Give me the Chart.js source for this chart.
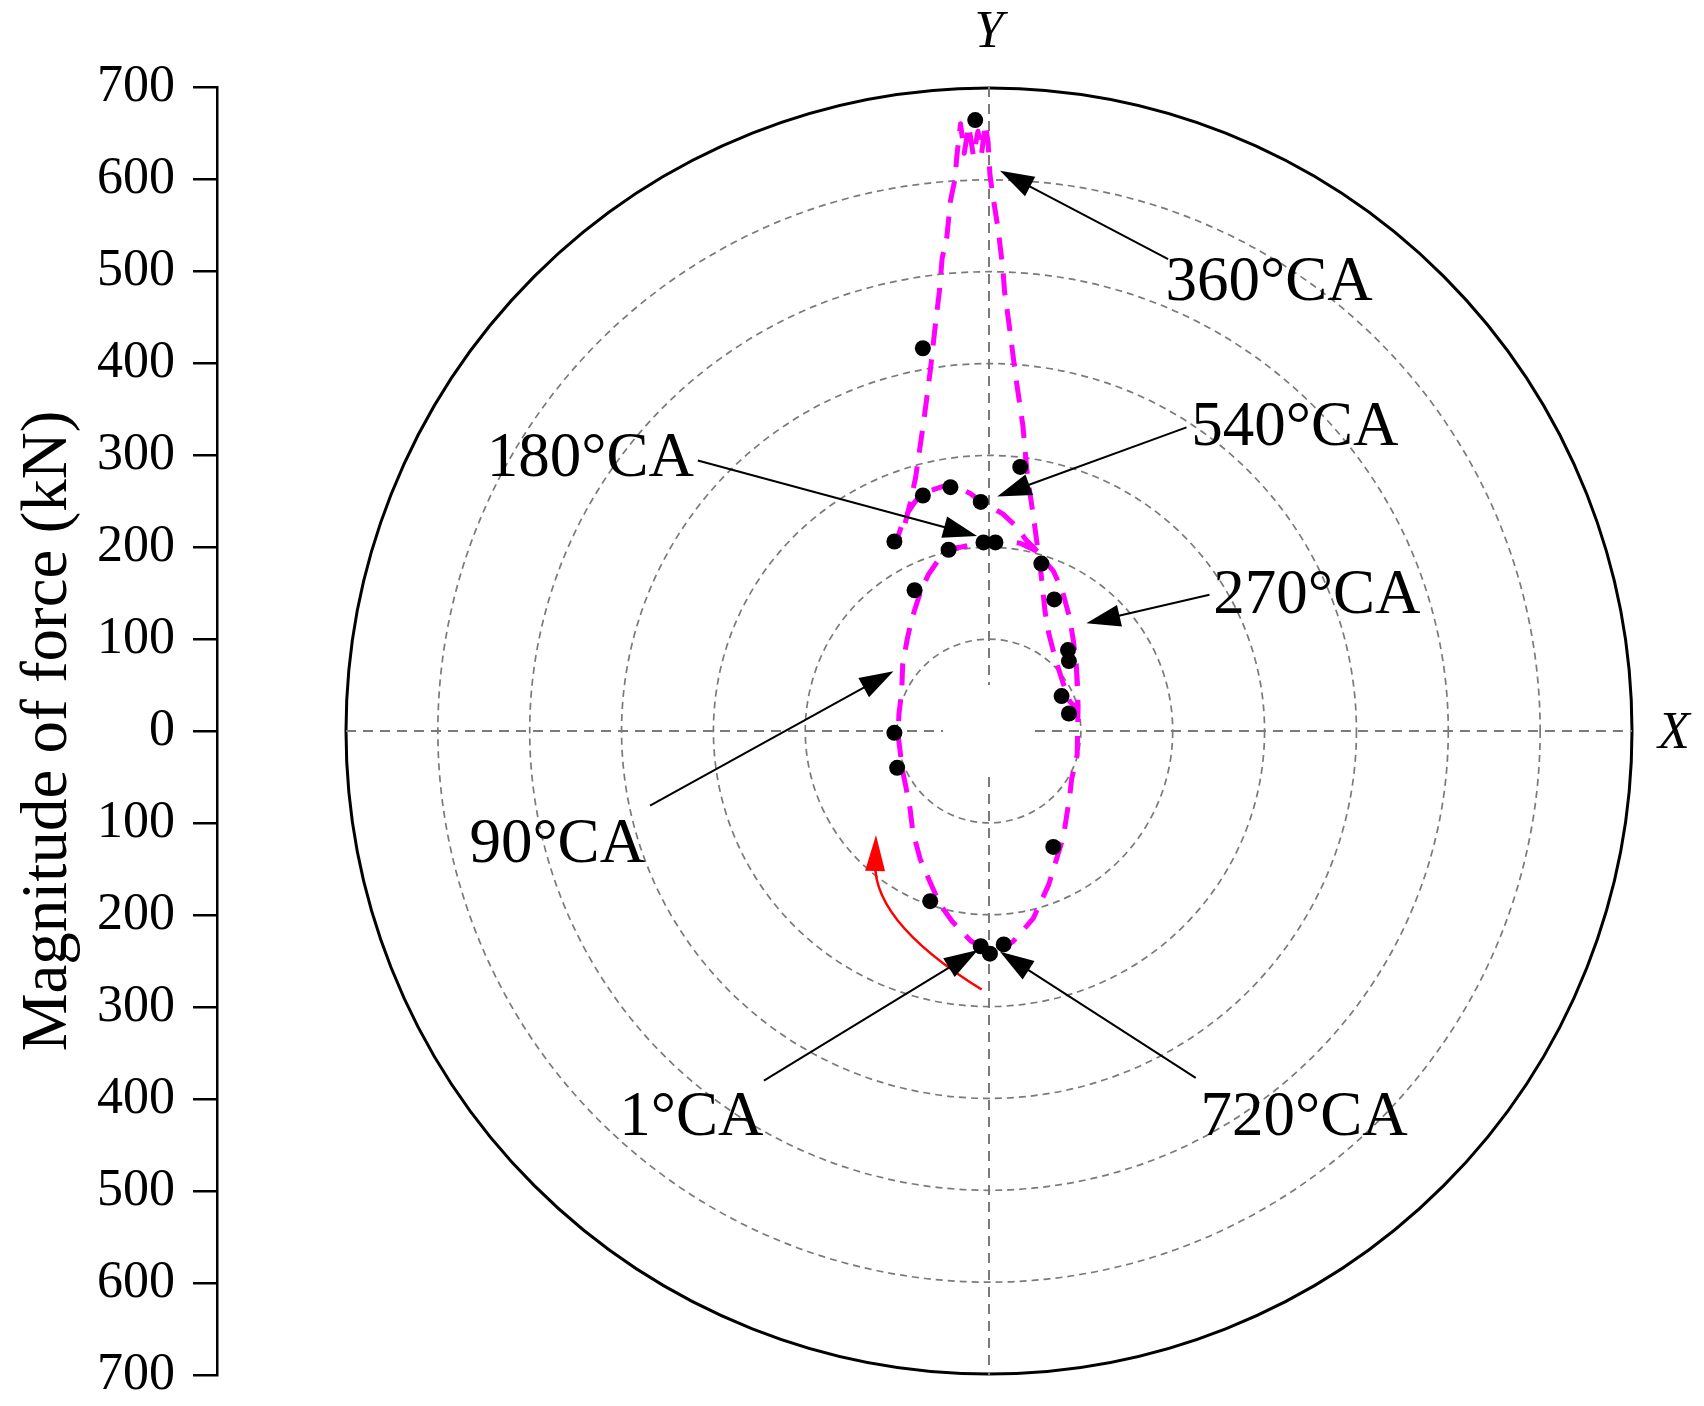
<!DOCTYPE html>
<html>
<head>
<meta charset="utf-8">
<script src="https://cdn.jsdelivr.net/npm/chart.js@4.4.1/dist/chart.umd.min.js"></script>
<style>
  html, body { margin: 0; padding: 0; background: #fff; }
  #wrap { width: 1704px; height: 1406px; position: relative; }
</style>
</head>
<body>
<div id="wrap"><canvas id="chart"></canvas></div>
<script>
// force vector path (kN), X and Y components, in crank-angle order
const curveX = [-6, -20, -40, -53, -66, -75, -83, -86, -91, -94, -99, -98, -95, -94, -89, -84, -75, -66, -55, -42, -30, -8, 8, 22, 34, 53, 62, 70, 80, 88, 92, 95, 97, 96, 88,
  80, 73, 65, 61, 57, 52, 48, 44, 41, 37, 29, 22, 17, 15, 10, 4, 1, -1, -4, -8, -12, -17, -22, -27, -31, -35, -37, -42, -46, -51, -54, -58, -64, -71, -80, -86, -94, -101,
  -92, -80, -68, -50, -35, -20, -8, 5, 15, 30, 40, 53, 62, 70, 80, 88, 92, 95, 97, 96, 90, 88, 81, 65, 48, 26, 12];
const curveY = [-236, -228, -207, -189, -160, -139, -109, -84, -58, -44, -4, 19, 43, 72, 100, 122, 150, 170, 186, 198, 200, 205, 206, 206, 204, 195, 183, 174, 152, 122, 97, 72, 40, 24, 32,
  54, 76, 106, 130, 168, 206, 236, 262, 286, 331, 386, 441, 477, 503, 545, 583, 605, 640, 660, 628, 652, 625, 658, 628, 660, 625, 600, 576, 536, 514, 478, 445, 391, 337, 275, 247, 215, 206,
  232, 250, 260, 266, 265, 258, 249, 242, 236, 222, 208, 195, 183, 174, 152, 122, 97, 72, 27, -26, -52, -70, -115, -167, -204, -229, -236];

// measured points
const dotX = [-15, -72, 34, -42, -72, -9, -103, -6, 7, -44, 57, -81, 71, 86, 87, 79, 87, -103, -100, 70, -64, -9, 1, 16];
const dotY = [664, 416, 287, 265, 256, 249, 206, 205, 205, 197, 182, 153, 143, 88, 76, 38, 19, -2, -40, -126, -185, -234, -242, -232];

// polar grid
const ringRadii = [100, 200, 300, 400, 500, 600, 700];
const tickValues = [-700, -600, -500, -400, -300, -200, -100, 0, 100, 200, 300, 400, 500, 600, 700];

// crank angle labels: text position and arrow from -> to (kN units)
const caLabels = ['360°CA', '540°CA', '180°CA', '270°CA', '90°CA', '1°CA', '720°CA'];
const caTextX = [305, 333, -434, 357, -470, -324, 343];
const caTextY = [486, 329, 295, 146, -124, -421, -421];
const caFromX = [195, 215, -317, 240, -369, -245, 225];
const caFromY = [513, 330, 294, 148, -81, -380, -377];
const caToX = [12, 9, -13, 106, -104, -12, 12];
const caToY = [609, 255, 212, 117, 65, -238, -240];

const SERIF = '"Liberation Serif", "Times New Roman", serif';

function arrowHead(ctx, x0, y0, x1, y1, len, half, color) {
  const a = Math.atan2(y1 - y0, x1 - x0);
  ctx.save();
  ctx.fillStyle = color;
  ctx.beginPath();
  ctx.moveTo(x1, y1);
  ctx.lineTo(x1 - len * Math.cos(a) + half * Math.sin(a), y1 - len * Math.sin(a) - half * Math.cos(a));
  ctx.lineTo(x1 - len * Math.cos(a) - half * Math.sin(a), y1 - len * Math.sin(a) + half * Math.cos(a));
  ctx.closePath();
  ctx.fill();
  ctx.restore();
}

const polarPlugin = {
  id: 'polarFrame',
  beforeDatasetsDraw(chart) {
    const { ctx, scales: { x, y } } = chart;
    const cx = x.getPixelForValue(0), cy = y.getPixelForValue(0);
    ctx.save();
    ringRadii.forEach(r => {
      const rp = x.getPixelForValue(r) - cx;
      ctx.beginPath();
      ctx.arc(cx, cy, rp, 0, Math.PI * 2);
      if (r === 700) {
        ctx.setLineDash([]);
        ctx.strokeStyle = '#000';
        ctx.lineWidth = 3;
      } else {
        ctx.setLineDash([7, 5]);
        ctx.strokeStyle = '#7a7a7a';
        ctx.lineWidth = 1.7;
      }
      ctx.stroke();
    });
    // cross lines, broken near the origin
    ctx.setLineDash([10, 7]);
    ctx.strokeStyle = '#7a7a7a';
    ctx.lineWidth = 2;
    ctx.beginPath();
    ctx.moveTo(cx, y.getPixelForValue(700)); ctx.lineTo(cx, y.getPixelForValue(50));
    ctx.moveTo(cx, y.getPixelForValue(-50)); ctx.lineTo(cx, y.getPixelForValue(-700));
    ctx.moveTo(x.getPixelForValue(-700), cy); ctx.lineTo(x.getPixelForValue(-50), cy);
    ctx.moveTo(x.getPixelForValue(50), cy); ctx.lineTo(x.getPixelForValue(700), cy);
    ctx.stroke();
    ctx.restore();
  },
  afterDatasetsDraw(chart) {
    const { ctx, scales: { x, y } } = chart;
    ctx.save();
    // red direction arrow
    const p0 = [x.getPixelForValue(-8), y.getPixelForValue(-281)];
    const pc = [x.getPixelForValue(-134), y.getPixelForValue(-203)];
    const p1 = [x.getPixelForValue(-123), y.getPixelForValue(-113)];
    ctx.strokeStyle = '#ff0000';
    ctx.lineWidth = 2.5;
    ctx.beginPath();
    ctx.moveTo(p0[0], p0[1]);
    ctx.quadraticCurveTo(pc[0], pc[1], p1[0], p1[1] + 20);
    ctx.stroke();
    arrowHead(ctx, pc[0] + 8, pc[1], p1[0], p1[1], 36, 10, '#ff0000');

    // crank angle annotations
    ctx.fillStyle = '#000';
    ctx.strokeStyle = '#000';
    ctx.lineWidth = 2;
    ctx.font = '63px ' + SERIF;
    ctx.textAlign = 'center';
    ctx.textBaseline = 'middle';
    caLabels.forEach((t, i) => {
      const fx = x.getPixelForValue(caFromX[i]), fy = y.getPixelForValue(caFromY[i]);
      const tx = x.getPixelForValue(caToX[i]), ty = y.getPixelForValue(caToY[i]);
      const a = Math.atan2(ty - fy, tx - fx);
      ctx.beginPath();
      ctx.moveTo(fx, fy);
      ctx.lineTo(tx - 20 * Math.cos(a), ty - 20 * Math.sin(a));
      ctx.stroke();
      arrowHead(ctx, fx, fy, tx, ty, 34, 11, '#000');
      ctx.fillText(t, x.getPixelForValue(caTextX[i]), y.getPixelForValue(caTextY[i]));
    });

    // axis names
    ctx.font = 'italic 52px ' + SERIF;
    ctx.fillText('Y', x.getPixelForValue(0), 33);
    ctx.fillText('X', x.getPixelForValue(700) + 42, y.getPixelForValue(-4));
    ctx.restore();
  }
};

new Chart(document.getElementById('chart'), {
  type: 'scatter',
  data: {
    datasets: [
      {
        label: 'Measured',
        data: dotX.map((v, i) => ({ x: v, y: dotY[i] })),
        pointRadius: 8,
        pointBackgroundColor: '#000',
        pointBorderWidth: 0,
        showLine: false,
        order: 0
      },
      {
        label: 'Force path',
        data: curveX.map((v, i) => ({ x: v, y: curveY[i] })),
        showLine: true,
        borderColor: '#ff00ff',
        borderWidth: 5,
        borderDash: [22, 14],
        borderJoinStyle: 'round',
        pointRadius: 0,
        tension: 0,
        order: 1
      }
    ]
  },
  options: {
    responsive: true,
    maintainAspectRatio: false,
    animation: false,
    layout: { padding: { top: 87, bottom: 31, left: 0, right: 72 } },
    plugins: { legend: { display: false }, tooltip: { enabled: false } },
    scales: {
      x: { type: 'linear', min: -700, max: 700, display: false },
      y: {
        type: 'linear', min: -700, max: 700, position: 'left', weight: 1,
        afterBuildTicks: s => { s.ticks = tickValues.map(v => ({ value: v })); },
        afterFit: s => { s.width = 217; },
        ticks: {
          callback: v => Math.abs(v),
          color: '#000',
          padding: 18,
          font: { family: SERIF, size: 52, lineHeight: 0.5 }
        },
        grid: { drawOnChartArea: false, tickLength: 24, color: '#000', lineWidth: 2.5 },
        border: { display: true, color: '#000', width: 2.5 },
        title: {
          display: true,
          text: 'Magnitude of force (kN)',
          color: '#000',
          font: { family: SERIF, size: 65 },
          padding: { top: 10, bottom: 0 }
        }
      },
      gap: {
        type: 'linear', min: -700, max: 700, position: 'left', weight: 0,
        afterFit: s => { s.width = 129; },
        ticks: { display: false },
        grid: { display: false },
        border: { display: false }
      }
    }
  },
  plugins: [polarPlugin]
});
</script>
</body>
</html>
